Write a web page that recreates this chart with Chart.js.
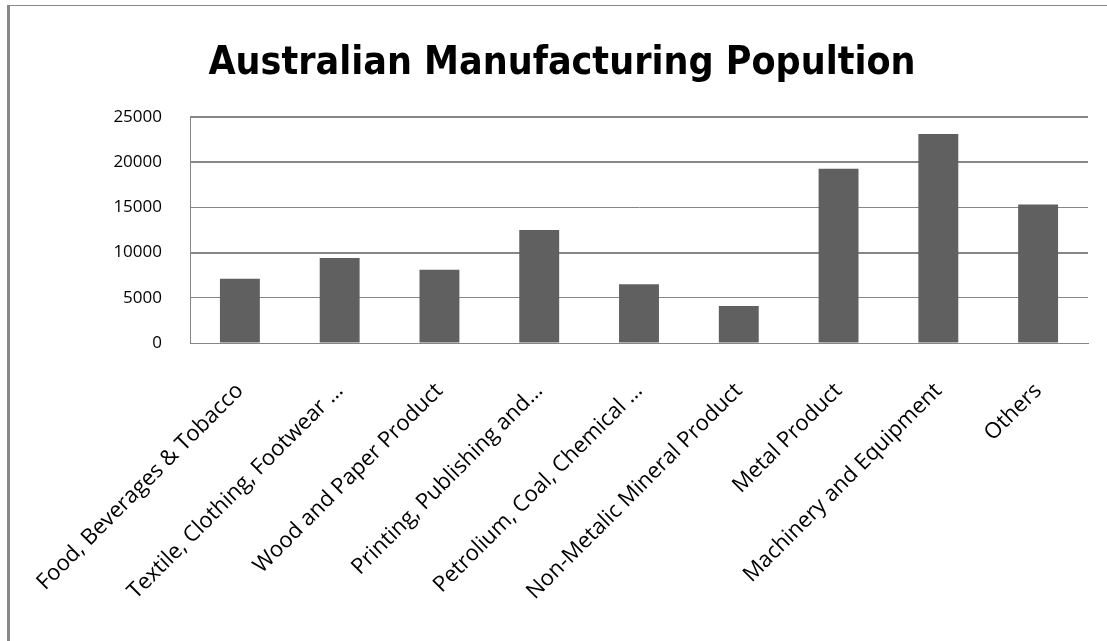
<!DOCTYPE html>
<html>
<head>
<meta charset="utf-8">
<script src="https://cdn.jsdelivr.net/npm/chart.js@4.4.1/dist/chart.umd.min.js"></script>
<style>
  body { margin: 0; background: #fff; }
  #wrap { position: relative; width: 1107px; height: 641px; overflow: hidden; }
  #frame { position: absolute; left: 7px; top: 5px; right: 0; bottom: 0;
           border-left: 3px solid #888; border-top: 1px solid #888; }
  #chart { position: absolute; left: 0; top: 0; }
</style>
</head>
<body>
<div id="wrap">
  <div id="frame"></div>
  <canvas id="chart" width="1107" height="641"></canvas>
</div>
<script>
// categories and values
const categories = [
    'Food, Beverages & Tobacco',
    'Textile, Clothing, Footwear …',
    'Wood and Paper Product',
    'Printing, Publishing and…',
    'Petrolium, Coal, Chemical …',
    'Non-Metalic Mineral Product',
    'Metal Product',
    'Machinery and Equipment',
    'Others'
];
const population = [7100, 9400, 8100, 12500, 6500, 4100, 19250, 23100, 15300];
const yTicks = [0, 5000, 10000, 15000, 20000, 25000];

const gridColor = '#868686';

const ctx = document.getElementById('chart').getContext('2d');
new Chart(ctx, {
    type: 'bar',
    data: {
        labels: categories,
        datasets: [{
            label: 'Population',
            data: population,
            backgroundColor: '#606060',
            borderWidth: 0,
            barPercentage: 0.4,
            categoryPercentage: 1.0
        }]
    },
    options: {
        responsive: false,
        animation: false,
        layout: { padding: { left: 36, right: 19, top: 0, bottom: 0 } },
        plugins: {
            legend: { display: false },
            tooltip: { enabled: false },
            title: {
                display: true,
                text: 'Australian Manufacturing Popultion',
                color: '#000',
                font: { family: '"Liberation Sans Narrow", "DejaVu Sans Condensed", "Open Sans", sans-serif', size: 39, weight: 'bold' },
                padding: { top: 40, bottom: 30 }
            }
        },
        scales: {
            x: {
                grid: { display: false },
                border: { display: true, color: gridColor, width: 1 },
                ticks: {
                    autoSkip: false,
                    maxRotation: 45,
                    minRotation: 45,
                    padding: 27,
                    color: '#000',
                    font: { family: '"Open Sans", sans-serif', size: 22 }
                },
                afterFit: function (scale) {
                    scale.paddingLeft = 0;
                    scale.paddingRight = 0;
                    scale.height = 298;
                }
            },
            y: {
                min: 0,
                max: 25000,
                afterBuildTicks: function (scale) {
                    scale.ticks = yTicks.map(v => ({ value: v }));
                },
                grid: {
                    color: gridColor,
                    lineWidth: c => ([10000, 20000, 25000].includes(c.tick && c.tick.value) ? 2 : 1),
                    drawTicks: false
                },
                border: { display: true, color: gridColor, width: 1 },
                ticks: {
                    padding: 28,
                    color: '#000',
                    font: { family: '"Open Sans", sans-serif', size: 17 },
                    callback: v => String(v)
                },
                afterFit: function (scale) {
                    scale.width = 154;
                }
            }
        }
    }
});
</script>
</body>
</html>
